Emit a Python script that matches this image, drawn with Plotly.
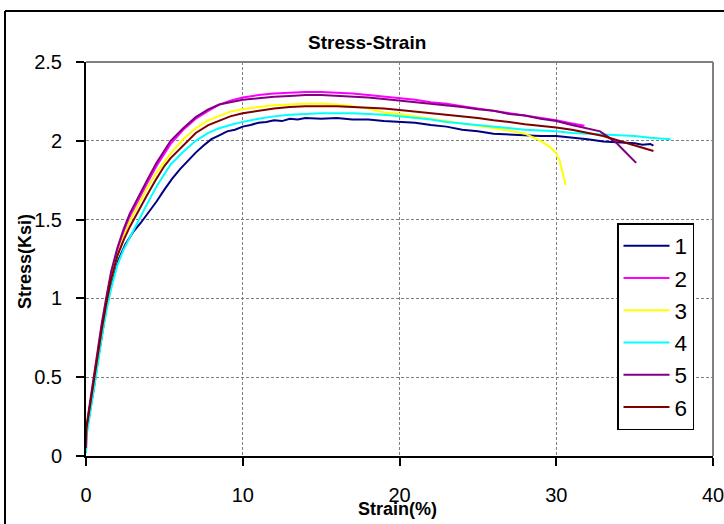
import plotly.graph_objects as go

# ---- data ----
names = ["1", "2", "3", "4", "5", "6"]
colors = ["#000080", "#FF00FF", "#FFFF00", "#00FFFF", "#800080", "#800000"]

strain_1 = [0, 0.02, 0.15, 0.3, 0.5, 0.75, 1.0, 1.3, 1.6, 2.0,
            2.5, 3.0, 3.5, 4.0, 4.5, 5.0, 5.5, 6.0, 6.5, 7.0,
            7.5, 8.0, 8.5, 9.0, 9.5, 10, 10.5, 11, 11.5, 12,
            12.5, 13, 13.5, 14, 15, 16, 17, 18, 19, 20,
            21, 22, 23, 24, 25, 26, 27, 28, 29, 30,
            31, 32, 33, 34, 35, 35.5, 36, 36.2]
stress_1 = [0.02, 0.14, 0.22, 0.30, 0.43, 0.60, 0.76, 0.94, 1.08, 1.23,
            1.34, 1.42, 1.48, 1.545, 1.615, 1.69, 1.76, 1.82, 1.875, 1.925,
            1.97, 2.01, 2.035, 2.06, 2.07, 2.09, 2.10, 2.115, 2.12, 2.13,
            2.125, 2.14, 2.135, 2.145, 2.14, 2.145, 2.135, 2.135, 2.125, 2.12,
            2.115, 2.10, 2.09, 2.07, 2.06, 2.045, 2.04, 2.035, 2.03, 2.03,
            2.02, 2.01, 1.995, 1.99, 1.985, 1.975, 1.98, 1.97]

strain_2 = [0, 0.02, 0.15, 0.3, 0.5, 0.75, 1.0, 1.3, 1.6, 2.0,
            2.4, 2.8, 3.4, 3.9, 4.5, 5.0, 5.4, 6.2, 7.0, 7.8,
            8.5, 9.2, 10, 11, 12, 13, 14, 15, 16, 17,
            18, 19, 20, 21, 22, 23, 24, 25, 26, 27,
            28, 29, 30, 31, 31.8]
stress_2 = [0.04, 0.16, 0.25, 0.35, 0.49, 0.64, 0.82, 0.99, 1.15, 1.30,
            1.42, 1.52, 1.64, 1.73, 1.84, 1.92, 1.98, 2.07, 2.14, 2.19,
            2.23, 2.255, 2.275, 2.29, 2.30, 2.305, 2.31, 2.31, 2.305, 2.30,
            2.29, 2.28, 2.27, 2.26, 2.245, 2.235, 2.22, 2.205, 2.19, 2.175,
            2.16, 2.145, 2.13, 2.11, 2.095]

strain_3 = [0, 0.02, 0.15, 0.3, 0.5, 0.75, 1.0, 1.3, 1.6, 2.0,
            2.4, 2.8, 3.4, 3.9, 4.5, 5.0, 5.4, 6.2, 7.0, 7.8,
            8.5, 9.2, 10, 11, 12, 13, 14, 15, 16, 17,
            18, 19, 20, 21, 22, 23, 24, 25, 26, 27,
            28, 28.5, 29, 29.6, 30, 30.2, 30.4, 30.6]
stress_3 = [0.04, 0.15, 0.24, 0.34, 0.48, 0.63, 0.80, 0.97, 1.12, 1.27,
            1.39, 1.49, 1.61, 1.70, 1.80, 1.87, 1.92, 2.01, 2.08, 2.13,
            2.16, 2.185, 2.20, 2.215, 2.225, 2.23, 2.235, 2.235, 2.23, 2.22,
            2.205, 2.18, 2.17, 2.155, 2.14, 2.125, 2.11, 2.095, 2.08, 2.065,
            2.045, 2.025, 2.0, 1.96, 1.92, 1.88, 1.80, 1.72]

strain_4 = [0, 0.02, 0.15, 0.3, 0.5, 0.75, 1.0, 1.3, 1.6, 2.0,
            2.4, 2.8, 3.4, 3.9, 4.5, 5.0, 5.4, 6.2, 7.0, 7.8,
            8.5, 9.2, 10, 11, 12, 13, 14, 15, 16, 17,
            18, 19, 20, 21, 22, 23, 24, 25, 26, 27,
            28, 29, 30, 31, 32, 33, 34, 35, 36, 37,
            37.3]
stress_4 = [0.02, 0.12, 0.20, 0.29, 0.42, 0.58, 0.75, 0.92, 1.06, 1.21,
            1.31, 1.39, 1.51, 1.60, 1.71, 1.79, 1.85, 1.93, 2.0, 2.05,
            2.08, 2.10, 2.12, 2.14, 2.155, 2.165, 2.17, 2.175, 2.175, 2.175,
            2.17, 2.165, 2.155, 2.145, 2.135, 2.12, 2.11, 2.10, 2.09, 2.08,
            2.07, 2.065, 2.06, 2.05, 2.045, 2.04, 2.035, 2.03, 2.02, 2.015,
            2.01]

strain_5 = [0, 0.02, 0.15, 0.3, 0.5, 0.75, 1.0, 1.3, 1.6, 2.0,
            2.4, 2.8, 3.4, 3.9, 4.5, 5.0, 5.4, 6.2, 7.0, 7.8,
            8.5, 9.2, 10, 11, 12, 13, 14, 15, 16, 17,
            18, 19, 20, 21, 22, 23, 24, 25, 26, 27,
            28, 29, 30, 31, 32, 32.8, 33.3, 33.8, 34.3, 34.7,
            35.1]
stress_5 = [0.05, 0.18, 0.27, 0.37, 0.51, 0.66, 0.84, 1.01, 1.17, 1.32,
            1.44, 1.54, 1.66, 1.75, 1.86, 1.94, 2.0, 2.08, 2.15, 2.2,
            2.23, 2.245, 2.26, 2.27, 2.28, 2.285, 2.29, 2.29, 2.285, 2.28,
            2.275, 2.265, 2.255, 2.245, 2.235, 2.225, 2.215, 2.20, 2.19, 2.17,
            2.16, 2.14, 2.125, 2.10, 2.08, 2.06, 2.025, 1.99, 1.94, 1.90,
            1.86]

strain_6 = [0, 0.02, 0.15, 0.3, 0.5, 0.75, 1.0, 1.3, 1.6, 2.0,
            2.4, 2.8, 3.4, 3.9, 4.5, 5.0, 5.4, 6.2, 7.0, 7.8,
            8.5, 9.2, 10, 11, 12, 13, 14, 15, 16, 17,
            18, 19, 20, 21, 22, 23, 24, 25, 26, 27,
            28, 29, 30, 31, 32, 33, 34, 35, 36.2]
stress_6 = [0.10, 0.17, 0.25, 0.35, 0.48, 0.63, 0.80, 0.97, 1.12, 1.27,
            1.37, 1.455, 1.57, 1.656, 1.76, 1.84, 1.89, 1.97, 2.05, 2.10,
            2.13, 2.155, 2.175, 2.19, 2.205, 2.215, 2.22, 2.22, 2.22, 2.215,
            2.21, 2.205, 2.195, 2.185, 2.175, 2.165, 2.155, 2.145, 2.13, 2.12,
            2.105, 2.095, 2.085, 2.07, 2.05, 2.03, 2.0, 1.97, 1.935]

x_ticks = [0, 10, 20, 30, 40]
y_ticks = [0, 0.5, 1, 1.5, 2, 2.5]
y_tick_labels = ["0", "0.5", "1", "1.5", "2", "2.5"]

title_text = "Stress-Strain"
x_title = "Strain(%)"
y_title = "Stress(Ksi)"

strains = [strain_1, strain_2, strain_3, strain_4, strain_5, strain_6]
stresses = [stress_1, stress_2, stress_3, stress_4, stress_5, stress_6]

FONT = "Liberation Sans, Arial, sans-serif"

fig = go.Figure()
for nm, col, xs, ys in zip(names, colors, strains, stresses):
    fig.add_trace(go.Scatter(x=xs, y=ys, mode="lines", name=nm,
                             line=dict(color=col, width=2)))

W, H = 724, 524
L, R, T, B = 86, 11, 62, 68
pw, ph = W - L - R, H - T - B

def px(xp):
    return (xp - L) / pw

def py(yp):
    return (H - B - yp) / ph

fig.update_layout(
    width=W, height=H,
    margin=dict(l=L, r=R, t=T, b=B, pad=0, autoexpand=False),
    paper_bgcolor="white", plot_bgcolor="white",
    font=dict(family=FONT, color="black"),
    showlegend=True,
    legend=dict(x=px(617), y=py(223), xanchor="left", yanchor="top",
                bgcolor="white", bordercolor="black", borderwidth=1.5,
                font=dict(size=22.5, family=FONT), itemwidth=46,
                tracegroupgap=0),
    xaxis=dict(range=[0, 40], tickvals=x_ticks, ticks="outside", ticklen=8,
               tickwidth=1.5, tickcolor="black", showline=True, linecolor="black",
               linewidth=2, showgrid=True, gridcolor="#808080", gridwidth=1,
               griddash="3px,2px", zeroline=False, tickfont=dict(size=20),
               ticklabelstandoff=12, ticklabeloverflow="allow", automargin=False),
    yaxis=dict(range=[0, 2.5], tickvals=y_ticks, ticktext=y_tick_labels,
               ticks="outside", ticklen=8, tickwidth=1.5, tickcolor="black",
               showline=True, linecolor="black", linewidth=2, showgrid=True,
               gridcolor="#808080", gridwidth=1, griddash="3px,2px",
               zeroline=False, tickfont=dict(size=20), ticklabelstandoff=10,
               ticklabeloverflow="allow", automargin=False),
    annotations=[
        dict(text="<b>" + title_text + "</b>", xref="paper", yref="paper",
             x=px(367), y=py(42), xanchor="center", yanchor="middle",
             showarrow=False, font=dict(size=19)),
        dict(text="<b>" + x_title + "</b>", xref="paper", yref="paper",
             x=px(397), y=py(509), xanchor="center", yanchor="middle",
             showarrow=False, font=dict(size=18)),
        dict(text="<b>" + y_title + "</b>", xref="paper", yref="paper",
             x=px(25), y=py(262), xanchor="center", yanchor="middle",
             textangle=-90, showarrow=False, font=dict(size=18)),
    ],
    shapes=[
        dict(type="line", xref="paper", yref="paper", x0=0, x1=1, y0=1, y1=1,
             line=dict(color="#808080", width=2)),
        dict(type="line", xref="paper", yref="paper", x0=1, x1=1, y0=0, y1=1,
             line=dict(color="#808080", width=2)),
        dict(type="line", xref="paper", yref="paper", x0=px(5), x1=px(760),
             y0=py(11), y1=py(11), line=dict(color="black", width=2)),
        dict(type="line", xref="paper", yref="paper", x0=px(5), x1=px(5),
             y0=py(11), y1=py(560), line=dict(color="black", width=2)),
    ],
)

fig.write_html("out.html",
               config={"displayModeBar": False},
               post_script="document.body.style.margin='0';document.body.style.overflow='hidden';")
